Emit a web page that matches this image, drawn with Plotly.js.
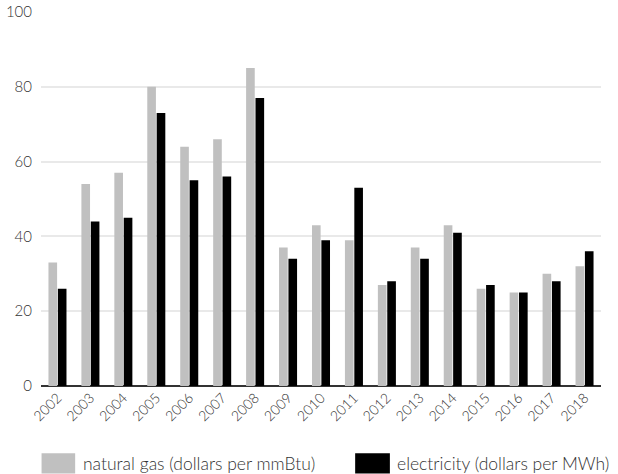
<!DOCTYPE html>
<html>
<head>
<meta charset="utf-8">
<script src="https://cdn.plot.ly/plotly-3.0.1.min.js"></script>
<style>html,body{margin:0;padding:0;background:#fff;}#chart{width:618px;height:474px;}</style>
</head>
<body>
<div id="chart"></div>
<script>
const years = ['2002','2003','2004','2005','2006','2007','2008','2009','2010','2011','2012','2013','2014','2015','2016','2017','2018'];
const naturalGas = [33, 54, 57, 80, 64, 66, 85, 37, 43, 39, 27, 37, 43, 26, 25, 30, 32];
const electricity = [26, 44, 45, 73, 55, 56, 77, 34, 39, 53, 28, 34, 41, 27, 25, 28, 36];
const seriesNames = ['natural gas (dollars per mmBtu)', 'electricity (dollars per MWh)'];
const seriesColors = ['#c0c0c0', '#000000'];
const yTicks = [0, 20, 40, 60, 80, 100];

const fam = 'Lato, "Open Sans", sans-serif';
const txt = '#333';

const traces = [
  {type: 'bar', x: years, y: naturalGas, name: seriesNames[0], marker: {color: seriesColors[0]}},
  {type: 'bar', x: years, y: electricity, name: seriesNames[1], marker: {color: seriesColors[1]}}
];

const layout = {
  width: 618, height: 474,
  margin: {l: 41, r: 17, t: 12, b: 88},
  paper_bgcolor: '#fff', plot_bgcolor: '#fff',
  font: {family: fam, size: 14, color: txt, weight: 300},
  showlegend: false,
  barmode: 'group',
  bargap: 0.43,
  bargroupgap: 0.08,
  xaxis: {
    type: 'category',
    tickangle: -45,
    automargin: false,
    showgrid: false,
    zeroline: false,
    showline: false,
    ticks: '',
    tickfont: {family: fam, size: 14, color: txt, weight: 300}
  },
  yaxis: {
    range: [0, 100],
    tickvals: yTicks,
    showgrid: true,
    gridcolor: '#e9e9e9',
    gridwidth: 2,
    zeroline: true,
    zerolinecolor: '#333',
    zerolinewidth: 2,
    ticks: '',
    ticklabelstandoff: 8,
    tickfont: {family: fam, size: 15, color: txt, weight: 300}
  },
  shapes: [
    {type: 'rect', xref: 'paper', yref: 'paper', x0: 0.001, x1: 0.061, y0: -0.234, y1: -0.18, fillcolor: seriesColors[0], line: {width: 0}},
    {type: 'rect', xref: 'paper', yref: 'paper', x0: 0.561, x1: 0.623, y0: -0.234, y1: -0.18, fillcolor: seriesColors[1], line: {width: 0}}
  ],
  annotations: [
    {xref: 'paper', yref: 'paper', x: 0.071, y: -0.207, xanchor: 'left', yanchor: 'middle', text: seriesNames[0], showarrow: false, font: {family: fam, size: 17.5, color: txt, weight: 300}},
    {xref: 'paper', yref: 'paper', x: 0.633, y: -0.207, xanchor: 'left', yanchor: 'middle', text: seriesNames[1], showarrow: false, font: {family: fam, size: 17.5, color: txt, weight: 300}}
  ]
};

Plotly.newPlot('chart', traces, layout, {displayModeBar: false, staticPlot: true});
</script>
</body>
</html>
